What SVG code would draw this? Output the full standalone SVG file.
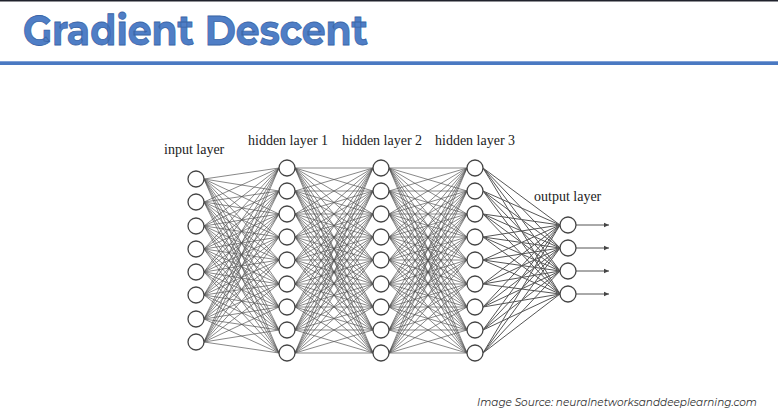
<svg xmlns="http://www.w3.org/2000/svg" width="778" height="414" viewBox="0 0 778 414">
<style>
.lbl{font-family:"Liberation Serif","DejaVu Serif",serif;font-size:14px;fill:#222}
.n{fill:#fff;stroke:#444;stroke-width:1.3}
.c{fill:none;stroke:#555;stroke-width:0.7}
.o{fill:none;stroke:#555;stroke-width:1}
</style>
<defs>
<marker id="ah" markerWidth="6" markerHeight="6" refX="5" refY="3" orient="auto" markerUnits="userSpaceOnUse">
<path d="M0 0.8L5 3L0 5.2z" fill="#444"/>
</marker>
</defs>
<rect width="778" height="414" fill="#fff"/>
<rect x="0" y="0" width="778" height="1.5" fill="#20222c"/>
<text x="23" y="45" font-family="Montserrat,'Open Sans','Liberation Sans',sans-serif" font-weight="700" font-size="41" fill="#4F7EC6" stroke="#3B66A8" stroke-width="0.8" textLength="345" lengthAdjust="spacingAndGlyphs">Gradient Descent</text>
<rect x="0" y="61" width="778" height="4" fill="#4A79C2"/>
<rect x="0" y="61" width="778" height="1" fill="#7FA0D6"/>
<g id="connectors">
<g id="in-h1">
<path class="c" d="M204 179L279 168M204 179L279 191M204 179L279 214M204 179L279 237M204 179L279 260M204 179L279 284M204 179L279 307M204 179L279 330M204 179L279 353"/>
<path class="c" d="M204 202L279 168M204 202L279 191M204 202L279 214M204 202L279 237M204 202L279 260M204 202L279 284M204 202L279 307M204 202L279 330M204 202L279 353"/>
<path class="c" d="M204 226L279 168M204 226L279 191M204 226L279 214M204 226L279 237M204 226L279 260M204 226L279 284M204 226L279 307M204 226L279 330M204 226L279 353"/>
<path class="c" d="M204 249L279 168M204 249L279 191M204 249L279 214M204 249L279 237M204 249L279 260M204 249L279 284M204 249L279 307M204 249L279 330M204 249L279 353"/>
<path class="c" d="M204 272L279 168M204 272L279 191M204 272L279 214M204 272L279 237M204 272L279 260M204 272L279 284M204 272L279 307M204 272L279 330M204 272L279 353"/>
<path class="c" d="M204 295L279 168M204 295L279 191M204 295L279 214M204 295L279 237M204 295L279 260M204 295L279 284M204 295L279 307M204 295L279 330M204 295L279 353"/>
<path class="c" d="M204 319L279 168M204 319L279 191M204 319L279 214M204 319L279 237M204 319L279 260M204 319L279 284M204 319L279 307M204 319L279 330M204 319L279 353"/>
<path class="c" d="M204 342L279 168M204 342L279 191M204 342L279 214M204 342L279 237M204 342L279 260M204 342L279 284M204 342L279 307M204 342L279 330M204 342L279 353"/>
</g>
<g id="h1-h2">
<path class="c" d="M295 168L373 168M295 168L373 191M295 168L373 214M295 168L373 237M295 168L373 260M295 168L373 284M295 168L373 307M295 168L373 330M295 168L373 353"/>
<path class="c" d="M295 191L373 168M295 191L373 191M295 191L373 214M295 191L373 237M295 191L373 260M295 191L373 284M295 191L373 307M295 191L373 330M295 191L373 353"/>
<path class="c" d="M295 214L373 168M295 214L373 191M295 214L373 214M295 214L373 237M295 214L373 260M295 214L373 284M295 214L373 307M295 214L373 330M295 214L373 353"/>
<path class="c" d="M295 237L373 168M295 237L373 191M295 237L373 214M295 237L373 237M295 237L373 260M295 237L373 284M295 237L373 307M295 237L373 330M295 237L373 353"/>
<path class="c" d="M295 260L373 168M295 260L373 191M295 260L373 214M295 260L373 237M295 260L373 260M295 260L373 284M295 260L373 307M295 260L373 330M295 260L373 353"/>
<path class="c" d="M295 284L373 168M295 284L373 191M295 284L373 214M295 284L373 237M295 284L373 260M295 284L373 284M295 284L373 307M295 284L373 330M295 284L373 353"/>
<path class="c" d="M295 307L373 168M295 307L373 191M295 307L373 214M295 307L373 237M295 307L373 260M295 307L373 284M295 307L373 307M295 307L373 330M295 307L373 353"/>
<path class="c" d="M295 330L373 168M295 330L373 191M295 330L373 214M295 330L373 237M295 330L373 260M295 330L373 284M295 330L373 307M295 330L373 330M295 330L373 353"/>
<path class="c" d="M295 353L373 168M295 353L373 191M295 353L373 214M295 353L373 237M295 353L373 260M295 353L373 284M295 353L373 307M295 353L373 330M295 353L373 353"/>
</g>
<g id="h2-h3">
<path class="c" d="M389 168L467 168M389 168L467 191M389 168L467 214M389 168L467 237M389 168L467 260M389 168L467 284M389 168L467 307M389 168L467 330M389 168L467 353"/>
<path class="c" d="M389 191L467 168M389 191L467 191M389 191L467 214M389 191L467 237M389 191L467 260M389 191L467 284M389 191L467 307M389 191L467 330M389 191L467 353"/>
<path class="c" d="M389 214L467 168M389 214L467 191M389 214L467 214M389 214L467 237M389 214L467 260M389 214L467 284M389 214L467 307M389 214L467 330M389 214L467 353"/>
<path class="c" d="M389 237L467 168M389 237L467 191M389 237L467 214M389 237L467 237M389 237L467 260M389 237L467 284M389 237L467 307M389 237L467 330M389 237L467 353"/>
<path class="c" d="M389 260L467 168M389 260L467 191M389 260L467 214M389 260L467 237M389 260L467 260M389 260L467 284M389 260L467 307M389 260L467 330M389 260L467 353"/>
<path class="c" d="M389 284L467 168M389 284L467 191M389 284L467 214M389 284L467 237M389 284L467 260M389 284L467 284M389 284L467 307M389 284L467 330M389 284L467 353"/>
<path class="c" d="M389 307L467 168M389 307L467 191M389 307L467 214M389 307L467 237M389 307L467 260M389 307L467 284M389 307L467 307M389 307L467 330M389 307L467 353"/>
<path class="c" d="M389 330L467 168M389 330L467 191M389 330L467 214M389 330L467 237M389 330L467 260M389 330L467 284M389 330L467 307M389 330L467 330M389 330L467 353"/>
<path class="c" d="M389 353L467 168M389 353L467 191M389 353L467 214M389 353L467 237M389 353L467 260M389 353L467 284M389 353L467 307M389 353L467 330M389 353L467 353"/>
</g>
<g id="h3-out">
<path class="o" d="M483 168L560 225M483 168L560 248M483 168L560 271M483 168L560 294"/>
<path class="o" d="M483 191L560 225M483 191L560 248M483 191L560 271M483 191L560 294"/>
<path class="o" d="M483 214L560 225M483 214L560 248M483 214L560 271M483 214L560 294"/>
<path class="o" d="M483 237L560 225M483 237L560 248M483 237L560 271M483 237L560 294"/>
<path class="o" d="M483 260L560 225M483 260L560 248M483 260L560 271M483 260L560 294"/>
<path class="o" d="M483 284L560 225M483 284L560 248M483 284L560 271M483 284L560 294"/>
<path class="o" d="M483 307L560 225M483 307L560 248M483 307L560 271M483 307L560 294"/>
<path class="o" d="M483 330L560 225M483 330L560 248M483 330L560 271M483 330L560 294"/>
<path class="o" d="M483 353L560 225M483 353L560 248M483 353L560 271M483 353L560 294"/>
</g>
<g id="outputs" marker-end="url(#ah)">
<path class="o" d="M576 225L609 225" marker-end="url(#ah)"/>
<path class="o" d="M576 248L609 248" marker-end="url(#ah)"/>
<path class="o" d="M576 271L609 271" marker-end="url(#ah)"/>
<path class="o" d="M576 294L609 294" marker-end="url(#ah)"/>
</g>
</g>
<g id="input-layer">
<text class="lbl" x="164" y="154">input layer</text>
<circle class="n" cx="196" cy="179" r="8"/><circle class="n" cx="196" cy="202" r="8"/><circle class="n" cx="196" cy="226" r="8"/><circle class="n" cx="196" cy="249" r="8"/><circle class="n" cx="196" cy="272" r="8"/><circle class="n" cx="196" cy="295" r="8"/><circle class="n" cx="196" cy="319" r="8"/><circle class="n" cx="196" cy="342" r="8"/>
</g>
<g id="hidden-layer-1">
<text class="lbl" x="248" y="145">hidden layer 1</text>
<circle class="n" cx="287" cy="168" r="8"/><circle class="n" cx="287" cy="191" r="8"/><circle class="n" cx="287" cy="214" r="8"/><circle class="n" cx="287" cy="237" r="8"/><circle class="n" cx="287" cy="260" r="8"/><circle class="n" cx="287" cy="284" r="8"/><circle class="n" cx="287" cy="307" r="8"/><circle class="n" cx="287" cy="330" r="8"/><circle class="n" cx="287" cy="353" r="8"/>
</g>
<g id="hidden-layer-2">
<text class="lbl" x="342" y="145">hidden layer 2</text>
<circle class="n" cx="381" cy="168" r="8"/><circle class="n" cx="381" cy="191" r="8"/><circle class="n" cx="381" cy="214" r="8"/><circle class="n" cx="381" cy="237" r="8"/><circle class="n" cx="381" cy="260" r="8"/><circle class="n" cx="381" cy="284" r="8"/><circle class="n" cx="381" cy="307" r="8"/><circle class="n" cx="381" cy="330" r="8"/><circle class="n" cx="381" cy="353" r="8"/>
</g>
<g id="hidden-layer-3">
<text class="lbl" x="435" y="145">hidden layer 3</text>
<circle class="n" cx="475" cy="168" r="8"/><circle class="n" cx="475" cy="191" r="8"/><circle class="n" cx="475" cy="214" r="8"/><circle class="n" cx="475" cy="237" r="8"/><circle class="n" cx="475" cy="260" r="8"/><circle class="n" cx="475" cy="284" r="8"/><circle class="n" cx="475" cy="307" r="8"/><circle class="n" cx="475" cy="330" r="8"/><circle class="n" cx="475" cy="353" r="8"/>
</g>
<g id="output-layer">
<text class="lbl" x="534" y="201">output layer</text>
<circle class="n" cx="568" cy="225" r="8"/><circle class="n" cx="568" cy="248" r="8"/><circle class="n" cx="568" cy="271" r="8"/><circle class="n" cx="568" cy="294" r="8"/>
</g>
<text x="477" y="406" font-family="Montserrat,'Open Sans','Liberation Sans',sans-serif" font-style="italic" font-size="11" fill="#333" textLength="280" lengthAdjust="spacingAndGlyphs">Image Source: neuralnetworksanddeeplearning.com</text>
</svg>
